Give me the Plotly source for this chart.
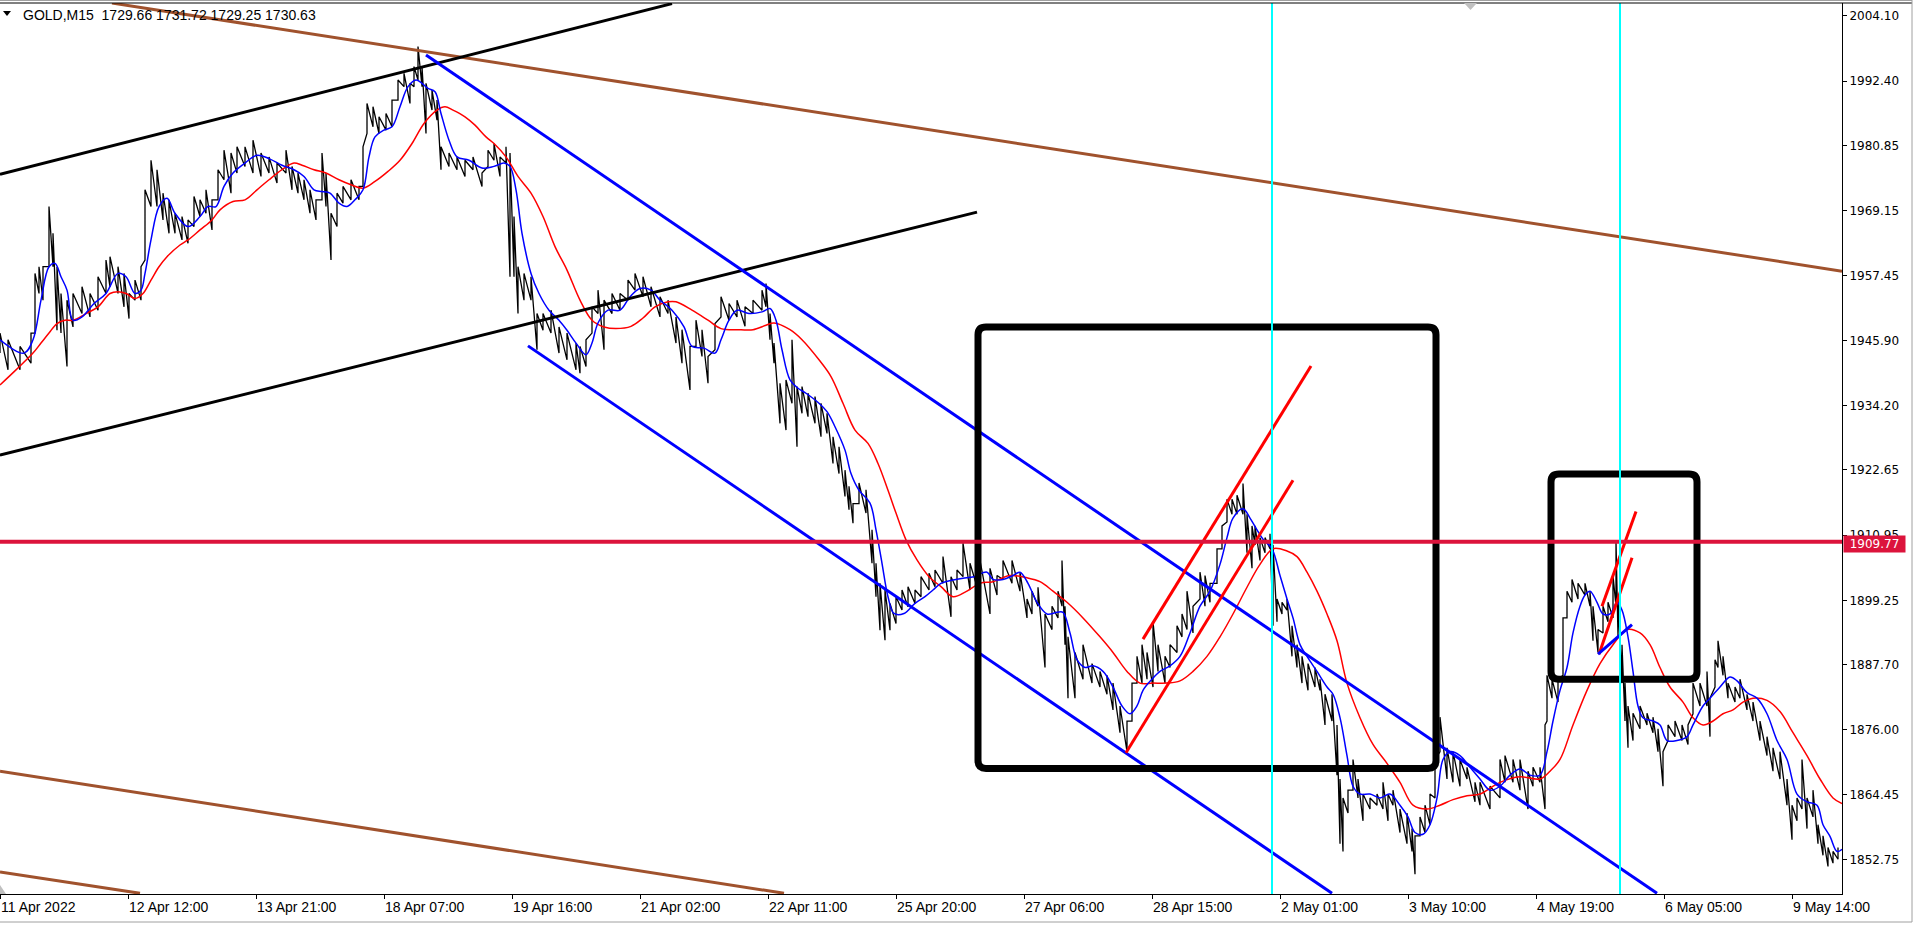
"""
GOLD M15 chart with moving averages, channels and marked zones.
"""
import plotly.graph_objects as go

# axis labels
PRICE_TICKS = [2004.10, 1992.40, 1980.85, 1969.15, 1957.45, 1945.90, 1934.20,
               1922.65, 1910.95, 1899.25, 1887.70, 1876.00, 1864.45, 1852.75]
TIME_LABELS = ['11 Apr 2022', '12 Apr 12:00', '13 Apr 21:00', '18 Apr 07:00', '19 Apr 16:00',
               '21 Apr 02:00', '22 Apr 11:00', '25 Apr 20:00', '27 Apr 06:00', '28 Apr 15:00',
               '2 May 01:00', '3 May 10:00', '4 May 19:00', '6 May 05:00', '9 May 14:00']
BARS_PER_LABEL = 128
HEADER = 'GOLD,M15\u00a0 1729.66 1731.72 1729.25 1730.63'

# price bars (bar index, high, low)
BAR = [0, 8, 20, 31, 35, 39, 43, 49, 53, 57, 61, 67, 73, 82, 90, 98, 106, 110, 118, 124,
       129, 135, 141, 145, 151, 157, 163, 169, 175, 182, 188, 194, 200, 206, 212, 218, 224, 231, 237, 245,
       253, 261, 269, 277, 286, 292, 298, 304, 310, 316, 322, 326, 331, 337, 343, 351, 359, 363, 367, 373,
       379, 386, 392, 398, 404, 410, 414, 418, 422, 426, 432, 437, 441, 449, 457, 465, 473, 482, 488, 494,
       500, 506, 510, 514, 518, 524, 531, 537, 543, 551, 559, 567, 576, 580, 586, 592, 598, 604, 612, 620,
       628, 635, 643, 651, 660, 668, 676, 682, 690, 696, 702, 708, 715, 721, 729, 737, 745, 753, 762, 766,
       770, 774, 780, 786, 792, 797, 802, 808, 815, 821, 827, 833, 839, 845, 849, 853, 859, 866, 872, 876,
       880, 885, 890, 896, 902, 908, 915, 921, 929, 935, 943, 951, 957, 963, 970, 976, 980, 990, 997, 1003,
       1012, 1020, 1027, 1032, 1038, 1045, 1052, 1058, 1062, 1065, 1068, 1075, 1083, 1092, 1100, 1107, 1113, 1120, 1127, 1132,
       1137, 1142, 1147, 1153, 1158, 1165, 1170, 1177, 1182, 1187, 1193, 1200, 1205, 1210, 1217, 1222, 1227, 1232, 1237, 1243,
       1247, 1252, 1255, 1260, 1265, 1270, 1273, 1277, 1282, 1287, 1292, 1297, 1302, 1308, 1315, 1320, 1325, 1332, 1337, 1340,
       1343, 1348, 1353, 1358, 1363, 1370, 1377, 1383, 1388, 1393, 1400, 1407, 1412, 1415, 1420, 1425, 1430, 1435, 1440, 1447,
       1453, 1460, 1467, 1475, 1480, 1490, 1500, 1505, 1513, 1520, 1528, 1533, 1540, 1545, 1547, 1552, 1558, 1563, 1567, 1572,
       1578, 1585, 1590, 1593, 1598, 1603, 1608, 1613, 1616, 1618, 1622, 1625, 1628, 1633, 1640, 1647, 1653, 1658, 1663, 1668,
       1675, 1682, 1688, 1693, 1700, 1707, 1710, 1715, 1718, 1723, 1728, 1735, 1740, 1747, 1753, 1760, 1767, 1773, 1780, 1787,
       1792, 1797, 1802, 1807, 1813, 1818, 1823, 1828, 1833, 1838]
HIGH = [1947.2, 1946.0, 1944.8, 1947.2, 1957.9, 1959.1, 1959.1, 1969.9, 1965.1, 1959.1, 1954.3, 1953.1, 1954.3, 1955.5, 1954.3, 1957.3, 1960.3, 1960.9, 1959.1, 1957.9,
        1954.3, 1956.7, 1959.1, 1972.9, 1978.2, 1976.5, 1972.3, 1971.1, 1968.7, 1968.1, 1967.5, 1971.7, 1971.1, 1972.9, 1971.1, 1976.5, 1980.0, 1979.5, 1980.6, 1980.6,
        1981.8, 1979.5, 1978.8, 1977.7, 1980.0, 1977.1, 1975.9, 1974.7, 1972.9, 1971.1, 1979.5, 1975.9, 1968.7, 1972.3, 1973.5, 1974.7, 1973.5, 1980.6, 1988.4, 1987.8,
        1986.0, 1986.6, 1989.0, 1992.6, 1993.8, 1992.0, 1995.0, 1998.6, 1995.0, 1992.0, 1990.8, 1989.0, 1980.6, 1979.5, 1978.8, 1978.2, 1978.8, 1975.9, 1980.0, 1981.2,
        1978.8, 1980.6, 1979.5, 1968.1, 1959.1, 1957.9, 1957.3, 1950.7, 1950.7, 1951.3, 1948.3, 1947.2, 1945.4, 1944.8, 1946.0, 1951.9, 1954.9, 1953.1, 1954.3, 1954.3,
        1956.7, 1957.9, 1957.3, 1955.5, 1953.7, 1953.1, 1950.1, 1947.8, 1944.8, 1949.5, 1947.8, 1943.0, 1948.9, 1953.7, 1952.5, 1953.1, 1951.9, 1953.1, 1954.9, 1956.1,
        1950.7, 1945.4, 1938.2, 1938.8, 1946.0, 1937.6, 1937.6, 1936.4, 1935.8, 1934.6, 1932.8, 1928.6, 1926.8, 1922.6, 1919.7, 1916.6, 1920.3, 1919.1, 1911.9, 1905.9,
        1902.3, 1901.1, 1898.7, 1899.9, 1901.1, 1901.7, 1901.1, 1903.5, 1904.1, 1904.7, 1907.1, 1903.5, 1904.7, 1909.5, 1905.9, 1908.9, 1906.4, 1905.0, 1903.7, 1906.4,
        1906.4, 1904.3, 1899.5, 1900.9, 1901.6, 1896.8, 1898.2, 1900.9, 1906.4, 1898.2, 1892.7, 1889.9, 1891.3, 1887.9, 1886.5, 1885.8, 1884.4, 1880.3, 1877.6, 1884.4,
        1889.2, 1891.3, 1889.9, 1895.4, 1891.3, 1889.2, 1891.3, 1894.7, 1896.8, 1900.9, 1898.2, 1904.3, 1903.7, 1902.3, 1908.5, 1912.6, 1917.4, 1917.4, 1918.1, 1920.2,
        1914.7, 1912.6, 1912.6, 1910.5, 1910.5, 1911.2, 1909.2, 1899.5, 1898.9, 1899.5, 1894.7, 1891.3, 1889.2, 1887.9, 1887.2, 1885.1, 1882.4, 1882.4, 1876.9, 1867.2,
        1863.8, 1865.2, 1870.7, 1867.2, 1864.5, 1863.8, 1864.5, 1866.6, 1864.5, 1865.2, 1861.8, 1861.1, 1858.3, 1857.0, 1860.4, 1862.5, 1864.5, 1870.7, 1878.3, 1872.8,
        1872.1, 1870.7, 1869.3, 1866.6, 1866.6, 1865.9, 1870.7, 1871.4, 1870.7, 1870.7, 1868.6, 1869.3, 1869.3, 1876.9, 1885.8, 1885.1, 1885.1, 1896.1, 1900.9, 1903.0,
        1902.3, 1902.3, 1900.9, 1898.2, 1894.0, 1898.2, 1898.9, 1903.7, 1909.9, 1899.5, 1891.3, 1884.4, 1880.3, 1879.0, 1880.3, 1879.0, 1878.3, 1876.2, 1872.1, 1876.9,
        1877.6, 1876.9, 1876.9, 1884.4, 1884.4, 1886.5, 1881.7, 1888.6, 1892.0, 1889.2, 1884.4, 1883.7, 1885.1, 1882.4, 1881.0, 1877.6, 1874.8, 1872.8, 1872.1, 1867.2,
        1862.5, 1863.8, 1870.7, 1863.8, 1865.2, 1859.0, 1857.0, 1854.9, 1854.2, 1854.9]
LOW = [1943.6, 1940.6, 1940.6, 1941.8, 1947.2, 1954.3, 1953.1, 1959.1, 1959.1, 1947.7, 1947.2, 1941.2, 1948.3, 1950.7, 1950.1, 1951.3, 1954.3, 1955.5, 1954.3, 1951.9,
       1949.8, 1953.1, 1953.1, 1960.3, 1969.9, 1969.9, 1967.5, 1965.1, 1965.1, 1963.9, 1963.3, 1966.3, 1968.1, 1968.7, 1965.7, 1971.1, 1974.7, 1972.3, 1975.9, 1977.1,
       1975.9, 1975.3, 1975.9, 1974.1, 1975.9, 1972.9, 1972.3, 1971.1, 1968.7, 1967.5, 1971.1, 1969.9, 1960.3, 1966.3, 1970.5, 1971.1, 1971.1, 1973.5, 1983.0, 1984.2,
       1983.0, 1983.6, 1984.2, 1989.0, 1991.4, 1988.4, 1991.4, 1992.6, 1991.4, 1983.0, 1987.2, 1985.4, 1976.5, 1977.1, 1976.5, 1975.3, 1976.5, 1973.5, 1977.1, 1978.2,
       1975.3, 1977.7, 1957.3, 1957.3, 1950.7, 1953.1, 1953.1, 1944.2, 1947.7, 1947.2, 1943.6, 1942.4, 1940.6, 1940.0, 1941.2, 1947.2, 1950.7, 1944.2, 1950.7, 1951.3,
       1953.1, 1954.9, 1953.7, 1951.9, 1950.1, 1950.7, 1945.4, 1941.8, 1937.0, 1944.8, 1943.0, 1938.2, 1944.2, 1950.1, 1949.5, 1950.1, 1948.4, 1950.7, 1951.3, 1951.9,
       1946.0, 1941.8, 1931.0, 1929.8, 1934.6, 1926.8, 1932.8, 1932.2, 1931.0, 1928.6, 1929.2, 1923.8, 1922.0, 1917.9, 1915.5, 1913.1, 1916.6, 1914.9, 1905.9, 1899.9,
       1893.9, 1892.1, 1893.9, 1895.1, 1897.5, 1898.1, 1898.7, 1899.9, 1901.1, 1901.7, 1902.3, 1896.3, 1901.1, 1903.5, 1901.1, 1902.3, 1902.3, 1896.8, 1900.2, 1903.0,
       1902.3, 1900.9, 1896.1, 1896.8, 1898.2, 1887.2, 1894.0, 1896.1, 1898.2, 1891.3, 1881.7, 1881.7, 1885.1, 1884.4, 1883.7, 1882.4, 1879.6, 1875.5, 1872.1, 1877.6,
       1884.4, 1884.4, 1885.1, 1883.7, 1886.5, 1884.4, 1887.2, 1889.9, 1892.7, 1894.0, 1893.4, 1899.5, 1898.2, 1898.9, 1902.3, 1908.5, 1913.3, 1914.7, 1914.7, 1914.7,
       1907.8, 1905.0, 1909.2, 1906.4, 1907.8, 1908.5, 1894.7, 1895.4, 1896.8, 1897.5, 1889.2, 1887.2, 1884.4, 1883.1, 1883.7, 1883.1, 1876.9, 1877.6, 1867.9, 1855.6,
       1854.2, 1861.1, 1865.2, 1863.8, 1859.7, 1861.8, 1862.5, 1861.8, 1859.7, 1862.5, 1857.6, 1855.6, 1854.2, 1850.1, 1857.0, 1857.6, 1859.0, 1863.8, 1872.1, 1867.2,
       1866.6, 1865.9, 1867.2, 1863.1, 1862.5, 1861.8, 1863.8, 1866.6, 1866.6, 1865.2, 1861.8, 1865.9, 1866.6, 1861.8, 1877.6, 1881.7, 1881.0, 1885.8, 1896.1, 1898.9,
       1899.5, 1900.2, 1898.2, 1892.0, 1889.9, 1893.4, 1895.4, 1896.1, 1898.2, 1892.7, 1884.4, 1877.6, 1872.8, 1874.1, 1876.2, 1876.9, 1875.5, 1872.1, 1865.9, 1874.1,
       1874.8, 1874.1, 1873.4, 1878.9, 1880.3, 1880.3, 1874.8, 1883.7, 1887.2, 1885.8, 1881.7, 1881.0, 1881.7, 1879.6, 1877.6, 1874.1, 1871.4, 1868.6, 1867.2, 1862.5,
       1856.3, 1859.7, 1861.8, 1858.3, 1860.4, 1855.6, 1853.5, 1851.5, 1852.1, 1852.8]

# fast moving average (blue)
FAST_BAR = [0, 24, 33, 41, 49, 55, 61, 67, 73, 82, 94, 106, 118, 126, 135, 141, 145, 151, 159, 167,
            175, 188, 200, 208, 216, 224, 233, 245, 257, 269, 282, 294, 304, 314, 322, 330, 339, 347, 355, 363,
            369, 375, 384, 392, 400, 408, 416, 422, 428, 435, 441, 449, 457, 469, 482, 494, 504, 510, 516, 522,
            531, 539, 549, 559, 567, 576, 586, 592, 598, 608, 620, 630, 640, 651, 660, 672, 684, 692, 704, 715,
            721, 729, 737, 749, 762, 770, 776, 782, 790, 798, 806, 819, 827, 835, 845, 851, 859, 870, 876, 882,
            888, 894, 904, 915, 925, 933, 941, 953, 963, 974, 987, 993, 1003, 1013, 1020, 1028, 1037, 1047, 1057, 1063,
            1070, 1077, 1085, 1093, 1103, 1113, 1122, 1130, 1137, 1143, 1152, 1160, 1170, 1180, 1190, 1200, 1210, 1220, 1227, 1233,
            1243, 1250, 1257, 1263, 1272, 1280, 1287, 1293, 1300, 1307, 1317, 1327, 1333, 1340, 1347, 1353, 1360, 1370, 1380, 1390,
            1400, 1408, 1415, 1423, 1430, 1437, 1443, 1450, 1460, 1470, 1480, 1490, 1500, 1510, 1520, 1530, 1540, 1547, 1553, 1560,
            1567, 1573, 1580, 1585, 1590, 1597, 1603, 1610, 1617, 1622, 1628, 1633, 1638, 1643, 1653, 1660, 1667, 1677, 1687, 1693,
            1703, 1710, 1720, 1730, 1737, 1747, 1757, 1767, 1777, 1787, 1797, 1807, 1817, 1823, 1830, 1837, 1842]
FAST = [1946.0, 1943.6, 1946.0, 1953.1, 1959.1, 1959.7, 1957.3, 1954.9, 1949.5, 1950.1, 1952.5, 1954.3, 1957.9, 1957.3, 1954.3, 1954.9, 1957.9, 1963.9, 1969.9, 1971.4,
        1968.7, 1966.3, 1968.1, 1969.9, 1969.9, 1973.5, 1975.9, 1977.7, 1979.1, 1978.5, 1977.3, 1976.5, 1975.3, 1972.9, 1972.6, 1972.3, 1970.5, 1969.9, 1971.1, 1972.9,
        1978.8, 1982.4, 1983.6, 1984.2, 1987.8, 1991.4, 1992.6, 1992.0, 1991.1, 1990.5, 1986.6, 1981.8, 1978.8, 1978.2, 1976.8, 1977.1, 1977.7, 1977.1, 1972.9, 1965.1,
        1957.9, 1954.3, 1951.3, 1949.5, 1947.7, 1945.4, 1943.3, 1945.4, 1949.0, 1951.3, 1951.3, 1953.7, 1955.2, 1954.9, 1953.1, 1951.3, 1948.3, 1944.8, 1944.5, 1943.6,
        1946.0, 1949.5, 1951.3, 1950.7, 1951.0, 1951.6, 1949.5, 1944.2, 1938.8, 1937.3, 1936.4, 1934.6, 1933.1, 1930.4, 1926.2, 1922.0, 1919.0, 1916.7, 1911.9, 1905.9,
        1899.9, 1896.9, 1896.9, 1898.7, 1899.9, 1901.1, 1902.3, 1902.9, 1903.2, 1903.5, 1904.3, 1903.0, 1903.0, 1903.7, 1904.3, 1902.3, 1898.9, 1896.8, 1897.1, 1897.1,
        1893.4, 1888.6, 1887.2, 1887.5, 1886.5, 1883.7, 1880.3, 1878.9, 1880.3, 1883.1, 1885.1, 1886.5, 1887.5, 1889.2, 1893.4, 1898.2, 1900.9, 1905.7, 1910.5, 1914.0,
        1915.7, 1914.0, 1911.9, 1910.2, 1908.5, 1903.7, 1899.5, 1896.1, 1891.3, 1889.2, 1886.5, 1883.7, 1882.4, 1878.2, 1871.4, 1865.9, 1864.5, 1864.5, 1863.8, 1864.5,
        1862.5, 1860.4, 1857.6, 1857.3, 1859.0, 1863.8, 1870.7, 1872.1, 1871.4, 1869.3, 1867.2, 1865.2, 1865.9, 1867.9, 1869.0, 1867.9, 1867.9, 1872.1, 1877.6, 1883.1,
        1887.2, 1893.4, 1898.2, 1900.2, 1900.9, 1898.9, 1896.8, 1896.8, 1898.9, 1897.5, 1892.7, 1886.5, 1880.3, 1878.2, 1877.6, 1876.9, 1874.1, 1874.1, 1874.8, 1876.9,
        1880.3, 1881.7, 1883.7, 1885.5, 1884.8, 1882.7, 1881.7, 1878.9, 1874.1, 1870.7, 1864.5, 1863.1, 1862.5, 1859.0, 1856.9, 1854.2, 1854.6]

# slow moving average (red)
SLOW_BAR = [0, 16, 33, 41, 49, 57, 65, 73, 86, 98, 110, 118, 126, 135, 143, 151, 159, 167, 180, 188,
            200, 212, 220, 233, 245, 257, 269, 282, 294, 302, 314, 326, 339, 351, 363, 375, 388, 400, 412, 424,
            437, 445, 453, 465, 475, 486, 494, 506, 518, 531, 543, 555, 567, 580, 592, 604, 616, 631, 643, 655,
            668, 676, 692, 708, 721, 741, 753, 766, 774, 790, 802, 819, 831, 843, 855, 868, 878, 888, 896, 906,
            917, 929, 941, 953, 966, 980, 993, 1010, 1027, 1040, 1053, 1067, 1083, 1100, 1113, 1127, 1140, 1153, 1167, 1180,
            1193, 1207, 1220, 1233, 1247, 1260, 1273, 1287, 1297, 1307, 1317, 1327, 1337, 1347, 1360, 1373, 1387, 1400, 1413, 1427,
            1440, 1453, 1467, 1480, 1500, 1520, 1540, 1550, 1560, 1573, 1587, 1600, 1613, 1627, 1640, 1650, 1660, 1670, 1683, 1693,
            1703, 1713, 1723, 1733, 1743, 1753, 1767, 1780, 1793, 1807, 1820, 1833, 1842]
SLOW = [1937.9, 1940.6, 1943.6, 1945.4, 1947.2, 1948.9, 1949.5, 1949.5, 1950.7, 1951.9, 1954.3, 1954.6, 1954.3, 1953.4, 1954.3, 1956.7, 1959.1, 1960.9, 1963.0, 1963.9,
        1965.7, 1967.5, 1969.3, 1970.8, 1971.1, 1972.9, 1974.7, 1976.5, 1977.7, 1977.3, 1976.5, 1975.9, 1974.7, 1973.8, 1973.2, 1974.4, 1976.2, 1978.2, 1981.2, 1984.8,
        1987.2, 1987.8, 1987.2, 1986.0, 1984.5, 1982.4, 1981.2, 1978.8, 1975.3, 1972.3, 1968.1, 1962.7, 1958.5, 1953.1, 1949.5, 1948.3, 1948.0, 1948.4, 1949.9, 1951.9,
        1952.8, 1952.8, 1951.3, 1949.5, 1948.0, 1947.8, 1947.8, 1948.6, 1949.0, 1947.8, 1946.0, 1942.4, 1939.4, 1934.6, 1929.8, 1927.4, 1923.8, 1919.0, 1914.9, 1910.1,
        1906.5, 1903.5, 1901.7, 1899.9, 1900.8, 1902.3, 1902.6, 1903.7, 1903.3, 1902.6, 1900.9, 1898.9, 1896.1, 1892.7, 1889.9, 1886.5, 1884.4, 1884.4, 1884.4, 1884.8,
        1886.5, 1889.2, 1892.7, 1896.8, 1901.6, 1905.7, 1908.5, 1908.1, 1907.1, 1904.3, 1900.9, 1896.8, 1892.0, 1884.4, 1878.2, 1873.4, 1870.0, 1866.6, 1862.5, 1861.8,
        1862.5, 1863.5, 1864.2, 1864.5, 1866.6, 1867.6, 1867.2, 1868.6, 1870.7, 1876.9, 1883.1, 1887.9, 1891.3, 1894.0, 1893.4, 1891.3, 1887.2, 1883.7, 1881.0, 1878.2,
        1876.9, 1877.6, 1878.9, 1879.6, 1881.0, 1881.7, 1881.3, 1879.3, 1875.5, 1871.4, 1867.2, 1863.8, 1862.8]

# drawn objects: (bar, price) anchor points
LEVEL_PRICE = 1909.77
CYAN_BARS = [1272, 1620]
BLACK_CHANNEL = [[(0, 1975.7), (672, 2006.3)], [(0, 1925.3), (977, 1968.9)]]
BLUE_CHANNEL = [[(426, 1997.1), (1657, 1846.7)], [(528, 1944.9), (1332, 1846.7)]]
BROWN_LINES = [[(112, 2006.4), (1842, 1958.3)], [(0, 1868.6), (784, 1846.7)], [(0, 1850.5), (140, 1846.7)]]
RED_LINES = [[(1143, 1892.3), (1311, 1941.3)], [(1126, 1871.9), (1293, 1920.8)],
             [(1602, 1898.2), (1636, 1915.2)], [(1599, 1889.6), (1632, 1906.9)]]
SMALL_BLUE = [(1598, 1889.6), (1632, 1894.9)]
BOXES = [[(978, 1869.1), (1436, 1948.3)], [(1551, 1885.1), (1697, 1921.9)]]

# plot area geometry (pixels)
PLOT_W, PLOT_TOP, PLOT_BOTTOM = 1842, 3, 894
Y_MIN, Y_MAX = 1846.57, 2006.41


def py(px):
    """Pixel row -> paper y."""
    return (PLOT_BOTTOM - px) / (PLOT_BOTTOM - PLOT_TOP)


def rounded_box(corners, rx=8, ry=1.4):
    (x0, y0), (x1, y1) = corners
    return (f'M {x0 + rx},{y0} L {x1 - rx},{y0} Q {x1},{y0} {x1},{y0 + ry} '
            f'L {x1},{y1 - ry} Q {x1},{y1} {x1 - rx},{y1} L {x0 + rx},{y1} '
            f'Q {x0},{y1} {x0},{y1 - ry} L {x0},{y0 + ry} Q {x0},{y0} {x0 + rx},{y0} Z')


def seg(fig, pts, color, width):
    fig.add_trace(go.Scatter(
        x=[p[0] for p in pts], y=[p[1] for p in pts],
        mode='lines', line=dict(color=color, width=width), hoverinfo='skip'
    ))


fig = go.Figure()

# price bars drawn as a high/low zigzag
zx, zy = [], []
for b, h, l in zip(BAR, HIGH, LOW):
    zx += [b, b]
    zy += [l, h]
fig.add_trace(go.Scatter(x=zx, y=zy, mode='lines', line=dict(color='#000000', width=1.3),
                         hoverinfo='skip'))

# moving averages
fig.add_trace(go.Scatter(x=SLOW_BAR, y=SLOW, mode='lines', line=dict(color='#FF0000', width=1.5),
                         line_shape='spline', hoverinfo='skip'))
fig.add_trace(go.Scatter(x=FAST_BAR, y=FAST, mode='lines', line=dict(color='#0000FF', width=1.5),
                         line_shape='spline', hoverinfo='skip'))

# trend lines / channels
for pts in BROWN_LINES:
    seg(fig, pts, '#A0522D', 3)
for pts in BLACK_CHANNEL:
    seg(fig, pts, '#000000', 3)
for pts in BLUE_CHANNEL:
    seg(fig, pts, '#0000FF', 3)
for pts in RED_LINES:
    seg(fig, pts, '#FF0000', 3)
seg(fig, SMALL_BLUE, '#0000FF', 3)

shapes = []
for box in BOXES:
    shapes.append(dict(type='path', xref='x', yref='y', path=rounded_box(box),
                       line=dict(color='#000000', width=7), layer='above'))
shapes.append(dict(type='line', xref='paper', yref='y', x0=0, x1=1, y0=LEVEL_PRICE, y1=LEVEL_PRICE,
                   line=dict(color='#DC143C', width=4), layer='above'))
for b in CYAN_BARS:
    shapes.append(dict(type='line', xref='x', yref='paper', x0=b, x1=b, y0=0, y1=1,
                       line=dict(color='#00FFFF', width=2), layer='above'))

# window frame bits
shapes += [
    dict(type='line', xref='paper', yref='paper', x0=0, x1=1912 / PLOT_W, y0=1, y1=1,
         line=dict(color='#000000', width=1)),
    dict(type='line', xref='paper', yref='paper', x0=0, x1=1912 / PLOT_W, y0=py(0.5), y1=py(0.5),
         line=dict(color='#A0A0A0', width=1)),
    dict(type='line', xref='paper', yref='paper', x0=1912 / PLOT_W, x1=1912 / PLOT_W, y0=py(922), y1=py(0),
         line=dict(color='#A0A0A0', width=1)),
    dict(type='line', xref='paper', yref='paper', x0=0, x1=1912 / PLOT_W, y0=py(922), y1=py(922),
         line=dict(color='#A0A0A0', width=1)),
    dict(type='path', xref='x', yref='paper', fillcolor='#C0C0C0', line=dict(width=0),
         path=f'M 1464,{py(3)} L 1477,{py(3)} L 1470.5,{py(10)} Z'),
    dict(type='path', xref='x', yref='paper', fillcolor='#C0C0C0', line=dict(width=0),
         path=f'M 0,{py(885)} L 0,{py(894)} L 6,{py(894)} Z'),
    dict(type='path', xref='x', yref='paper', fillcolor='#000000', line=dict(width=0),
         path=f'M 3,{py(11)} L 11,{py(11)} L 7,{py(16)} Z'),
]

annotations = [
    dict(xref='paper', yref='paper', x=21 / PLOT_W, y=py(15), xanchor='left', yanchor='middle',
         text=HEADER, showarrow=False, font=dict(family='Liberation Sans', size=14, color='#000000')),
    dict(xref='paper', yref='y', x=1843 / PLOT_W, y=LEVEL_PRICE, xanchor='left', yanchor='middle',
         yshift=-2, text=f'{LEVEL_PRICE:.2f}', showarrow=False, bgcolor='#DC143C',
         width=61, height=16, borderpad=0,
         font=dict(family='DejaVu Sans', size=12, color='#FFFFFF')),
]

fig.update_layout(
    width=1915, height=925,
    margin=dict(l=0, r=1915 - PLOT_W, t=PLOT_TOP, b=925 - PLOT_BOTTOM),
    paper_bgcolor='white', plot_bgcolor='white',
    showlegend=False, hovermode=False,
    shapes=shapes, annotations=annotations,
)
fig.update_xaxes(
    range=[0, PLOT_W], showgrid=False, zeroline=False,
    showline=True, linecolor='#000000', linewidth=1,
    ticks='outside', ticklen=4, tickcolor='#000000',
    tickvals=[i * BARS_PER_LABEL for i in range(len(TIME_LABELS))], ticktext=TIME_LABELS,
    ticklabelposition='outside right',
    tickfont=dict(family='Liberation Sans', size=14, color='#000000'),
)
fig.update_yaxes(
    range=[Y_MIN, Y_MAX], side='right', showgrid=False, zeroline=False,
    showline=True, linecolor='#000000', linewidth=1,
    ticks='outside', ticklen=4, tickcolor='#000000',
    tickvals=PRICE_TICKS, ticktext=[f'{v:.2f}' for v in PRICE_TICKS],
    tickfont=dict(family='DejaVu Sans', size=12, color='#000000'),
)

fig.write_html("out.html", config={'displayModeBar': False},
               post_script="document.body.style.margin='0';")
